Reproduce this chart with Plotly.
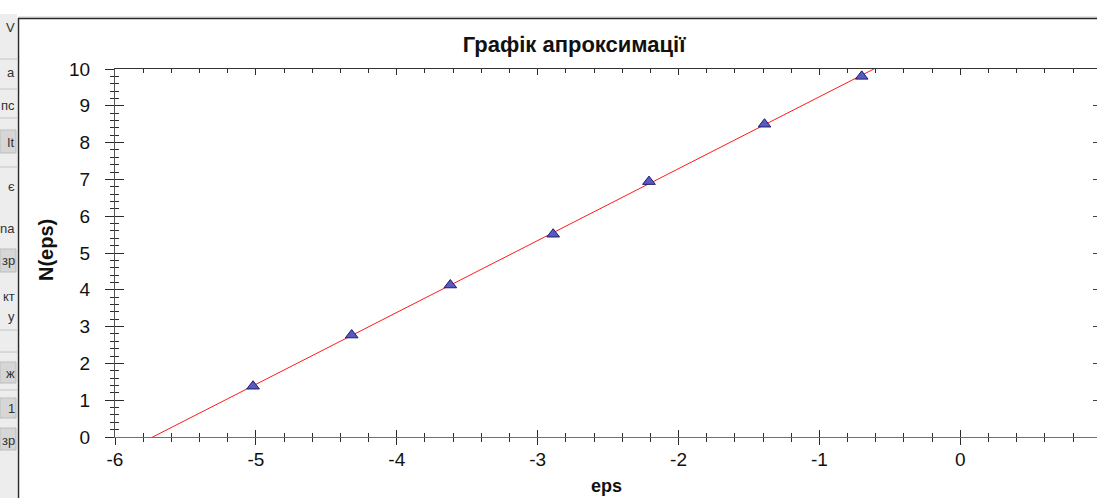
import numpy as np
import plotly.graph_objects as go

# Measured points
eps = [-5.02, -4.32, -3.62, -2.89, -2.21, -1.39, -0.70]
n_eps = [1.38, 2.77, 4.13, 5.51, 6.94, 8.50, 9.80]

x_ticks = [-6, -5, -4, -3, -2, -1, 0]
y_ticks = [0, 1, 2, 3, 4, 5, 6, 7, 8, 9, 10]
x_range = [-6, 0.97]
y_range = [0, 10]

# Fragments of the neighbouring side panel (label text cut at the border)
side_labels = ["V", "a", "пс", "It", "є", "na", "зр", "кт", "у", "ж", "1", "зр"]
side_label_y = [27, 72, 105, 142, 186, 228, 260, 296, 316, 373, 408, 440]

W, H = 1097, 498
L, R, T, B = 115, 0, 69, 61
PW, PH = W - L - R, H - T - B

FONT = "Liberation Sans, Arial, sans-serif"
TICK_COLOR = "#2b2b2b"


def px_x(px):
    return (px - L) / PW


def px_y(py):
    return (H - B - py) / PH


# Least-squares approximation line
slope, intercept = np.polyfit(eps, n_eps, 1)
fit_x = np.array(x_range)
fit_y = slope * fit_x + intercept

fig = go.Figure()
fig.add_trace(go.Scatter(
    x=fit_x, y=fit_y, mode="lines",
    line=dict(color="#ff1a1a", width=1),
    showlegend=False, hoverinfo="skip",
))
fig.add_trace(go.Scatter(
    x=eps, y=n_eps, mode="markers",
    marker=dict(symbol="triangle-up", size=11, color="#5a5abd",
                line=dict(color="#1c1c72", width=1)),
    showlegend=False, cliponaxis=False,
))
# Carriers for the mirrored / crossing axes
fig.add_trace(go.Scatter(x=[None], y=[None], xaxis="x2", yaxis="y2",
                         showlegend=False, hoverinfo="skip"))
fig.add_trace(go.Scatter(x=[None], y=[None], xaxis="x3", yaxis="y3",
                         showlegend=False, hoverinfo="skip"))

tickfont = dict(family=FONT, size=19, color="#111")

fig.update_layout(
    width=W, height=H,
    margin=dict(l=L, r=R, t=T, b=B, pad=0),
    paper_bgcolor="white", plot_bgcolor="white",
    showlegend=False,
    title=dict(
        text="<b>Графік апроксимації</b>",
        font=dict(family=FONT, size=22, color="#111"),
        x=px_x(574), xref="paper", xanchor="center",
        y=1 - 44 / H, yref="container", yanchor="middle",
    ),
    # bottom axis: labels + inward half of the crossing ticks
    xaxis=dict(
        range=x_range, showgrid=False, zeroline=False,
        tickmode="array", tickvals=x_ticks, ticktext=[str(v) for v in x_ticks],
        ticks="inside", ticklen=7, tickwidth=1, tickcolor=TICK_COLOR,
        minor=dict(tickmode="linear", tick0=-6, dtick=0.2, ticks="inside",
                   ticklen=4, tickwidth=1, tickcolor=TICK_COLOR, showgrid=False),
        showline=True, linecolor="#707070", linewidth=1,
        tickfont=tickfont, ticklabelstandoff=5,
    ),
    # bottom axis: outward half of the crossing ticks
    xaxis3=dict(
        range=x_range, overlaying="x", anchor="y3", side="bottom",
        showgrid=False, zeroline=False, showticklabels=False,
        tickmode="array", tickvals=x_ticks,
        ticks="outside", ticklen=7, tickwidth=1, tickcolor=TICK_COLOR,
        minor=dict(tickmode="linear", tick0=-6, dtick=0.2, ticks="outside",
                   ticklen=4, tickwidth=1, tickcolor=TICK_COLOR, showgrid=False),
        showline=False,
    ),
    # top mirror axis
    xaxis2=dict(
        range=x_range, overlaying="x", anchor="y2", side="top",
        showgrid=False, zeroline=False, showticklabels=False,
        tickmode="array", tickvals=x_ticks,
        ticks="inside", ticklen=6, tickwidth=1, tickcolor=TICK_COLOR,
        minor=dict(tickmode="linear", tick0=-6, dtick=0.2, ticks="inside",
                   ticklen=4, tickwidth=1, tickcolor=TICK_COLOR, showgrid=False),
        showline=True, linecolor="#333", linewidth=1,
    ),
    # left axis: labels + inward half of the crossing ticks
    yaxis=dict(
        range=y_range, showgrid=False, zeroline=False,
        tickmode="array", tickvals=y_ticks, ticktext=[str(v) for v in y_ticks],
        ticks="inside", ticklen=9, tickwidth=1, tickcolor=TICK_COLOR,
        minor=dict(tickmode="linear", tick0=0, dtick=0.2, ticks="inside",
                   ticklen=4, tickwidth=1, tickcolor=TICK_COLOR, showgrid=False),
        showline=True, linecolor="#555", linewidth=1,
        tickfont=tickfont, ticklabelstandoff=20,
    ),
    yaxis3=dict(
        range=y_range, overlaying="y", anchor="x3", side="left",
        showgrid=False, zeroline=False, showticklabels=False,
        tickmode="array", tickvals=y_ticks,
        ticks="outside", ticklen=9, tickwidth=1, tickcolor=TICK_COLOR,
        minor=dict(tickmode="linear", tick0=0, dtick=0.2, ticks="outside",
                   ticklen=4, tickwidth=1, tickcolor=TICK_COLOR, showgrid=False),
        showline=False,
    ),
    # right mirror axis (major ticks only)
    yaxis2=dict(
        range=y_range, overlaying="y", anchor="x2", side="right",
        showgrid=False, zeroline=False, showticklabels=False,
        tickmode="array", tickvals=y_ticks,
        ticks="inside", ticklen=4, tickwidth=1, tickcolor="#444",
        showline=False,
    ),
)

# Axis titles
fig.add_annotation(
    text="<b>N(eps)</b>", textangle=-90, showarrow=False,
    xref="paper", yref="paper", x=px_x(46), y=px_y(250),
    xanchor="center", yanchor="middle",
    font=dict(family=FONT, size=20, color="#111"),
)
fig.add_annotation(
    text="<b>eps</b>", showarrow=False,
    xref="paper", yref="paper", x=px_x(606), y=px_y(486),
    xanchor="center", yanchor="middle",
    font=dict(family=FONT, size=18, color="#111"),
)

# Side panel and window frame
shapes = [
    dict(type="rect", xref="paper", yref="paper", layer="below",
         x0=px_x(0), x1=px_x(17), y0=px_y(H), y1=px_y(14),
         fillcolor="#ededed", line=dict(width=0)),
]
for y0, y1 in [(130, 153), (249, 272), (362, 383), (398, 418), (428, 450)]:
    shapes.append(dict(type="rect", xref="paper", yref="paper", layer="below",
                       x0=px_x(0), x1=px_x(16), y0=px_y(y1), y1=px_y(y0),
                       fillcolor="#d6d6d6", line=dict(color="#bdbdbd", width=1)))
for yy in [59, 89, 118, 167, 330, 352, 390]:
    shapes.append(dict(type="line", xref="paper", yref="paper", layer="below",
                       x0=px_x(0), x1=px_x(17), y0=px_y(yy), y1=px_y(yy),
                       line=dict(color="#c4c4c4", width=1)))
shapes += [
    dict(type="line", xref="paper", yref="paper",
         x0=px_x(18), x1=px_x(W), y0=px_y(17), y1=px_y(17),
         line=dict(color="#cfcfcf", width=1)),
    dict(type="line", xref="paper", yref="paper",
         x0=px_x(18), x1=px_x(W), y0=px_y(18.5), y1=px_y(18.5),
         line=dict(color="#2a2a2a", width=1.5)),
    dict(type="line", xref="paper", yref="paper",
         x0=px_x(18.5), x1=px_x(18.5), y0=px_y(18), y1=px_y(H),
         line=dict(color="#2a2a2a", width=1.5)),
]
fig.update_layout(shapes=shapes)

for txt, yy in zip(side_labels, side_label_y):
    fig.add_annotation(
        text=txt, showarrow=False, xref="paper", yref="paper",
        x=px_x(17), y=px_y(yy), xanchor="right", yanchor="middle",
        font=dict(family=FONT, size=13, color="#333"),
    )

fig.write_html("out.html")
